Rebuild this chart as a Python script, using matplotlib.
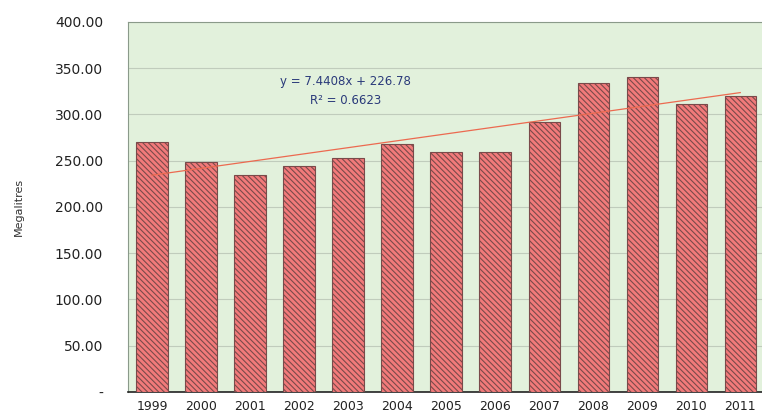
import matplotlib.pyplot as plt
import numpy as np

years = ['1999', '2000', '2001', '2002', '2003', '2004', '2005',
         '2006', '2007', '2008', '2009', '2010', '2011']
megalitres = [270, 249, 234, 244, 253, 268, 259, 259, 292, 334, 340, 311, 320]

# linear trendline as shown on the chart
slope = 7.4408
intercept = 226.78
r_squared = 0.6623

yticks = [0, 50, 100, 150, 200, 250, 300, 350, 400]
ytick_labels = ['-', '50.00', '100.00', '150.00', '200.00',
                '250.00', '300.00', '350.00', '400.00']

plt.rcParams['hatch.linewidth'] = 0.8

fig = plt.figure(figsize=(7.62, 4.20), dpi=100)
ax = fig.add_axes([0.168, 0.067, 0.835, 0.881])
ax.set_facecolor('#e2f1dc')

x = np.arange(len(years))
ax.bar(x, megalitres, width=0.64, color='#f27a7a', edgecolor='#7a4a4a',
       hatch='\\' * 6, linewidth=0.8, zorder=3)

# trendline
idx = np.arange(1, len(years) + 1)
ax.plot(x, slope * idx + intercept, color='#ec6a50', linewidth=0.9, zorder=4)

ax.text(3.94, 325, 'y = 7.4408x + 226.78\nR² = %.4f' % r_squared,
        ha='center', va='center', fontsize=8.5, color='#2a3a7a', linespacing=1.6)

ax.set_ylim(0, 400)
ax.set_xlim(-0.49, len(years) - 0.51)
ax.set_yticks(yticks)
ax.set_yticklabels(ytick_labels, fontsize=10, color='#222222')
ax.set_xticks(x)
ax.set_xticklabels(years, fontsize=9, color='#222222')
ax.tick_params(axis='y', length=0, pad=18)
ax.tick_params(axis='x', length=0, pad=6)
ax.yaxis.grid(True, color='#c0ccbc', linewidth=0.8, zorder=0)
ax.set_axisbelow(True)

for side in ['top', 'left', 'right']:
    ax.spines[side].set_color('#8a9a8a')
ax.spines['bottom'].set_color('#222222')
ax.spines['bottom'].set_linewidth(1.2)

ax.set_ylabel('Megalitres', fontsize=8, color='#333333', labelpad=22)

fig.savefig('out.png', dpi=100)
